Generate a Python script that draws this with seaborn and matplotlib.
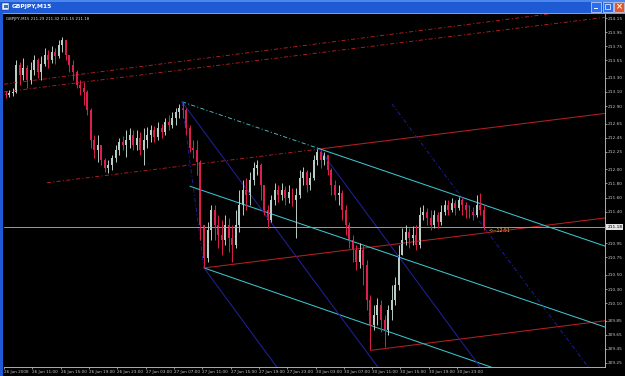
import matplotlib
matplotlib.use("Agg")
import numpy as np
import pandas as pd
import matplotlib.pyplot as plt
import matplotlib.transforms as mtransforms
from matplotlib.patches import Rectangle
import seaborn as sns

# ---------------- data ----------------
symbol = "GBPJPY,M15"
header = "GBPJPY,M15 211.29 211.32 211.15 211.18"
countdown = "<\u201412:51"
last_price = 211.18
first_open = 213.07
candle_hours = 0.5  # each drawn candle covers 30 minutes (hours from 26 Jun 07:00)

close = [213.06, 213.09, 213.10, 213.48, 213.34, 213.44, 213.27, 213.41, 213.55, 213.38,
         213.50, 213.62, 213.55, 213.67, 213.61, 213.77, 213.84, 213.62, 213.48, 213.38,
         213.20, 213.16, 213.10, 212.84, 212.42, 212.28, 212.35, 212.13, 212.02, 212.06,
         212.16, 212.28, 212.39, 212.35, 212.42, 212.49, 212.35, 212.45, 212.28, 212.42,
         212.49, 212.56, 212.46, 212.59, 212.53, 212.67, 212.63, 212.73, 212.82, 212.87,
         212.84, 212.59, 212.30, 212.28, 212.10, 211.21, 210.74, 211.14, 211.42, 211.21,
         211.07, 211.00, 211.21, 211.03, 210.93, 211.21, 211.49, 211.71, 211.64, 211.85,
         212.02, 212.06, 211.78, 211.42, 211.28, 211.57, 211.71, 211.64, 211.71, 211.59,
         211.68, 211.57, 211.64, 211.88, 211.96, 211.78, 211.88, 212.13, 212.25, 212.13,
         212.20, 211.99, 211.78, 211.64, 211.66, 211.42, 211.21, 211.00, 210.85, 210.68,
         210.85, 210.64, 210.14, 209.79, 209.93, 210.07, 209.86, 209.72, 210.00, 210.14,
         210.36, 210.78, 211.00, 211.11, 211.03, 211.07, 210.93, 211.35, 211.39, 211.31,
         211.21, 211.35, 211.25, 211.39, 211.49, 211.42, 211.52, 211.45, 211.57, 211.49,
         211.42, 211.39, 211.35, 211.49, 211.42, 211.18]

high = [213.11, 213.13, 213.16, 213.55, 213.53, 213.58, 213.48, 213.53, 213.62, 213.58,
        213.61, 213.72, 213.70, 213.75, 213.72, 213.84, 213.88, 213.84, 213.62, 213.55,
        213.41, 213.27, 213.24, 213.13, 212.87, 212.49, 212.49, 212.35, 212.16, 212.13,
        212.20, 212.35, 212.45, 212.47, 212.56, 212.59, 212.56, 212.56, 212.53, 212.59,
        212.60, 212.63, 212.62, 212.67, 212.64, 212.73, 212.77, 212.82, 212.87, 212.93,
        212.96, 212.87, 212.63, 212.42, 212.42, 212.13, 211.21, 211.25, 211.49, 211.49,
        211.35, 211.28, 211.35, 211.31, 211.21, 211.42, 211.71, 211.85, 211.88, 211.96,
        212.10, 212.13, 212.09, 211.78, 211.49, 211.64, 211.81, 211.78, 211.81, 211.76,
        211.78, 211.74, 211.74, 211.99, 212.03, 211.99, 211.96, 212.20, 212.29, 212.28,
        212.25, 212.20, 212.02, 211.85, 211.78, 211.71, 211.49, 211.25, 211.07, 210.93,
        210.95, 210.93, 210.71, 210.22, 210.07, 210.17, 210.14, 209.93, 210.07, 210.36,
        210.47, 210.93, 211.17, 211.21, 211.17, 211.20, 211.21, 211.47, 211.49, 211.45,
        211.42, 211.42, 211.39, 211.49, 211.57, 211.57, 211.59, 211.57, 211.61, 211.59,
        211.54, 211.49, 211.47, 211.64, 211.66, 211.49]

low = [213.01, 213.03, 213.04, 213.09, 213.20, 213.27, 213.16, 213.21, 213.34, 213.30,
       213.27, 213.47, 213.44, 213.51, 213.50, 213.58, 213.67, 213.55, 213.38, 213.27,
       213.16, 213.06, 212.91, 212.77, 212.30, 212.16, 212.10, 212.06, 211.96, 211.95,
       211.99, 212.10, 212.20, 212.28, 212.18, 212.30, 212.28, 212.28, 212.20, 212.06,
       212.30, 212.39, 212.39, 212.42, 212.45, 212.49, 212.56, 212.59, 212.63, 212.73,
       212.73, 212.49, 212.25, 212.16, 211.92, 211.00, 210.60, 210.68, 211.00, 211.00,
       210.88, 210.78, 210.93, 210.83, 210.68, 210.88, 211.11, 211.35, 211.42, 211.49,
       211.78, 211.92, 211.57, 211.35, 211.17, 211.25, 211.49, 211.54, 211.57, 211.49,
       211.52, 211.48, 211.03, 211.59, 211.78, 211.68, 211.71, 211.85, 212.06, 212.02,
       212.06, 211.92, 211.64, 211.57, 211.49, 211.28, 211.07, 210.88, 210.68, 210.57,
       210.60, 210.36, 210.00, 209.43, 209.72, 209.79, 209.69, 209.48, 209.65, 209.86,
       210.07, 210.29, 210.85, 210.93, 210.88, 210.93, 210.85, 210.88, 211.28, 211.21,
       211.14, 211.17, 211.17, 211.21, 211.35, 211.35, 211.39, 211.35, 211.42, 211.35,
       211.31, 211.31, 211.28, 211.32, 211.35, 211.14]

x_tick_hours = [0, 4, 8, 12, 16, 20, 24, 28, 32, 36, 40, 44, 48, 52, 56, 60, 64]
x_tick_labels = ["26 Jun 2008", "26 Jun 11:00", "26 Jun 15:00", "26 Jun 19:00",
                 "26 Jun 23:00", "27 Jun 03:00", "27 Jun 07:00", "27 Jun 11:00",
                 "27 Jun 15:00", "27 Jun 19:00", "27 Jun 23:00", "30 Jun 03:00",
                 "30 Jun 07:00", "30 Jun 11:00", "30 Jun 15:00", "30 Jun 19:00",
                 "30 Jun 23:00"]
y_ticks = [214.15, 213.95, 213.75, 213.55, 213.30, 213.10, 212.90, 212.65, 212.45,
           212.25, 212.00, 211.80, 211.60, 211.40, 210.95, 210.75, 210.50, 210.30,
           210.10, 209.85, 209.65, 209.45, 209.25]

# trend objects: (hour0, price0, hour1, price1)
red_lines_dashdot = [(0.0, 213.21, 84.9, 214.31),
                     (0.0, 213.10, 84.9, 214.16),
                     (6.07, 211.81, 44.21, 212.285)]
red_lines_solid = [(44.21, 212.285, 84.9, 212.795),
                   (28.25, 210.60, 84.9, 211.31),
                   (51.84, 209.43, 84.9, 209.85)]
cyan_lines_dashdot = [(25.14, 212.96, 44.35, 212.30)]
cyan_lines_solid = [(44.35, 212.30, 84.9, 210.91),
                    (26.27, 211.76, 84.9, 209.76),
                    (28.25, 210.60, 72.88, 209.05)]
navy_lines_solid = [(25.14, 212.96, 53.11, 209.15),
                    (44.63, 212.275, 67.58, 209.15),
                    (28.25, 210.60, 38.84, 209.15)]
navy_lines_dashdot = [(25.14, 212.96, 28.25, 210.60),
                      (54.80, 212.93, 83.05, 209.12)]

# ---------------- styling ----------------
sns.set_theme(style="dark", rc={"axes.facecolor": "black", "figure.facecolor": "black",
                                "savefig.facecolor": "black", "lines.scale_dashes": False})
plt.rcParams["font.family"] = ["DejaVu Sans"]

W, H = 625, 376
fig = plt.figure(figsize=(W / 100, H / 100), dpi=100)
fig.patch.set_facecolor("black")
ax = fig.add_axes([4 / W, 1 - 367 / H, 601 / W, 353 / H])
ax.set_facecolor("black")
ax.grid(False)

BULL = "#b9cdc6"
BEAR = "#dc1f4c"
RED = "#b52020"
CYAN = "#3cc3cc"
NAVY = "#20209a"
DASHDOT = (0, (3, 1.6, 0.8, 1.6))

df = pd.DataFrame({"close": close, "high": high, "low": low})
df["open"] = [first_open] + close[:-1]
df["t"] = np.arange(len(df)) * candle_hours + candle_hours / 2
df["high"] = df[["high", "open", "close"]].max(axis=1)
df["low"] = df[["low", "open", "close"]].min(axis=1)
df["bull"] = df["close"] >= df["open"]
df["color"] = np.where(df["bull"], BULL, BEAR)


def draw(segs, color, ls, lw=0.75):
    for (x0, p0, x1, p1) in segs:
        sns.lineplot(x=[x0, x1], y=[p0, p1], color=color, linestyle=ls, linewidth=lw,
                     ax=ax, legend=False, sort=False, estimator=None)


draw(red_lines_dashdot, RED, DASHDOT, 0.65)
draw(red_lines_solid, RED, "-")
draw(cyan_lines_dashdot, CYAN, DASHDOT, 0.65)
draw(cyan_lines_solid, CYAN, "-")
draw(navy_lines_solid, NAVY, "-")
draw(navy_lines_dashdot, NAVY, DASHDOT, 0.65)

ax.axhline(last_price, color="#9c9c9c", linewidth=0.7)

# candles
ax.vlines(df["t"], df["low"], df["high"], colors=df["color"], linewidth=0.7)
body_bottom = df[["open", "close"]].min(axis=1)
body_h = (df["close"] - df["open"]).abs().clip(lower=0.008)
ax.bar(df["t"], body_h, bottom=body_bottom, width=0.28, color=df["color"], linewidth=0)

ax.text(68.4, 211.125, countdown, color="#e6c04a", fontsize=3.3, va="center", ha="left")

ax.set_xlim(0, 84.89)
ax.set_ylim(209.193, 214.207)

ax.set_xticks(x_tick_hours)
ax.set_xticklabels(x_tick_labels, ha="left")
ax.yaxis.tick_right()
ax.set_yticks(y_ticks)
ax.set_yticklabels([f"{v:.2f}" for v in y_ticks])
ax.tick_params(axis="x", colors="#c8c8c8", labelsize=3.0, length=1.6, width=0.5, pad=0.6,
               bottom=True, direction="out")
ax.tick_params(axis="y", colors="#c8c8c8", labelsize=3.1, length=1.6, width=0.5, pad=0.6,
               right=True, left=False, direction="out")
for s in ("top", "left"):
    ax.spines[s].set_visible(False)
for s in ("bottom", "right"):
    ax.spines[s].set_visible(True)
    ax.spines[s].set_color("#c8c8c8")
    ax.spines[s].set_linewidth(0.6)
ax.set_xlabel("")
ax.set_ylabel("")

# current price box on the price scale
trans = mtransforms.blended_transform_factory(ax.transAxes, ax.transData)
ax.text(1.004, last_price, f"{last_price:.2f}", transform=trans, fontsize=3.1, color="black",
        va="center", ha="left", clip_on=False,
        bbox=dict(facecolor="#e4e4e4", edgecolor="none", boxstyle="square,pad=0.25"))

# header text inside chart
fig.text(6 / W, 1 - 19 / H, header, color="#e0e0e0", fontsize=2.8, va="center", ha="left")


# ---------------- window chrome ----------------
def px_rect(x, y, w, h, **kw):
    r = Rectangle((x / W, 1 - (y + h) / H), w / W, h / H, transform=fig.transFigure, **kw)
    fig.add_artist(r)


px_rect(0, 0, W, 13, facecolor="#1d5ad4", edgecolor="none")
px_rect(0, 0, W, 2, facecolor="#4a86ee", edgecolor="none")
px_rect(0, 13, 3, H - 13, facecolor="#1d5ad4", edgecolor="none")
px_rect(3, 13, W - 3, 0.8, facecolor="#9a9a9a", edgecolor="none")
# icon
px_rect(2, 2.5, 7, 7, facecolor="#e8eef8", edgecolor="#0c2c80", linewidth=0.3)
px_rect(3.5, 5, 4, 3, facecolor="#3a6ad0", edgecolor="none")
fig.text(12 / W, 1 - 6.5 / H, symbol, color="white", fontsize=4.3, fontweight="bold",
         va="center", ha="left")
# buttons
px_rect(591, 1.5, 10, 10, facecolor="#2c6cf0", edgecolor="white", linewidth=0.4)
px_rect(594, 8.2, 4, 1.2, facecolor="white", edgecolor="none")
px_rect(602.5, 1.5, 10, 10, facecolor="#2c6cf0", edgecolor="white", linewidth=0.4)
px_rect(605, 4, 5, 5, facecolor="none", edgecolor="white", linewidth=0.5)
px_rect(614, 1.5, 10, 10, facecolor="#e2572c", edgecolor="white", linewidth=0.4)
fig.text(619 / W, 1 - 6.6 / H, "\u00d7", color="white", fontsize=6, fontweight="bold",
         va="center", ha="center")

fig.savefig("out.png", dpi=100, facecolor="black")
